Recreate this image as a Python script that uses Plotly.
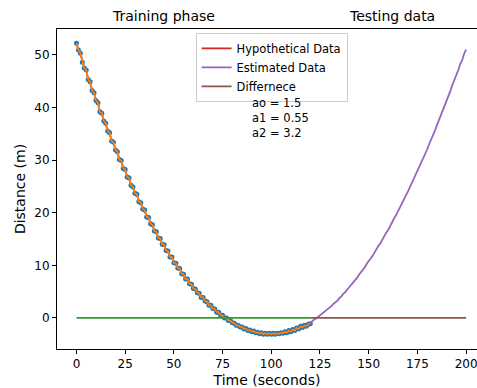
import plotly.graph_objects as go

# ---- Training phase (measured distance, one sample per second) ----
train_t = list(range(0, 121))
train_d = [
    52.2, 50.9, 50.3, 48.6, 47.5, 47.1, 45.3, 44.9, 43.2, 42.8,
    41.3, 40.9, 39.2, 38.9, 37.4, 37.0, 35.5, 35.2, 33.6, 33.4,
    31.9, 31.6, 30.1, 29.9, 28.4, 28.2, 26.8, 26.6, 25.2, 24.9,
    23.7, 23.5, 22.1, 21.9, 20.7, 20.5, 19.2, 19.1, 17.9, 17.7,
    16.5, 16.4, 15.2, 15.1, 14.0, 13.9, 12.8, 12.7, 11.6, 11.6,
    10.5, 10.4, 9.5, 9.4, 8.4, 8.3, 7.4, 7.4, 6.5, 6.4,
    5.6, 5.5, 4.8, 4.7, 3.9, 3.9, 3.2, 3.1, 2.4, 2.4,
    1.8, 1.7, 1.1, 1.1, 0.5, 0.5, 0.0, 0.0, -0.5, -0.5,
    -0.9, -1.0, -1.4, -1.4, -1.7, -1.7, -2.1, -2.0, -2.4, -2.3,
    -2.6, -2.5, -2.8, -2.7, -3.0, -2.8, -3.1, -2.9, -3.1, -2.9,
    -3.1, -2.9, -3.1, -2.9, -3.0, -2.8, -2.9, -2.6, -2.8, -2.4,
    -2.6, -2.2, -2.4, -1.9, -2.1, -1.6, -1.8, -1.4, -1.6, -1.2,
    -1.1,
]

# ---- Testing data (estimated distance) ----
test_t = list(range(120, 201))
test_d = [
    -1.0, -0.6, -0.3, -0.1, 0.2, 0.5, 0.7, 1.1, 1.3, 1.7,
    1.9, 2.3, 2.7, 3.0, 3.3, 3.8, 4.1, 4.6, 4.9, 5.4,
    5.8, 6.2, 6.7, 7.2, 7.6, 8.2, 8.6, 9.2, 9.6, 10.3,
    10.7, 11.3, 11.8, 12.5, 13.0, 13.7, 14.2, 14.9, 15.5, 16.2,
    16.7, 17.5, 18.1, 18.9, 19.5, 20.3, 20.9, 21.7, 22.4, 23.2,
    23.9, 24.7, 25.4, 26.3, 27.0, 27.9, 28.6, 29.6, 30.3, 31.3,
    32.0, 33.0, 33.8, 34.8, 35.6, 36.6, 37.5, 38.5, 39.4, 40.4,
    41.3, 42.3, 43.2, 44.3, 45.2, 46.3, 47.1, 48.3, 49.0, 50.2,
    51.0,
]

# ---- Difference lines ----
diff_train_t = [0, 120]
diff_train_d = [0, 0]
diff_test_t = [120, 200]
diff_test_d = [0, 0]

coef_labels = ["ao = 1.5", "a1 = 0.55", "a2 = 3.2"]

BLUE, ORANGE, GREEN = "#1f77b4", "#ff7f0e", "#2ca02c"
RED, PURPLE, BROWN = "#d62728", "#9467bd", "#8c564b"
FONT = "DejaVu Sans"

fig = go.Figure()
fig.add_trace(go.Scatter(x=train_t, y=train_d, mode="lines", name="Hypothetical Data",
                         line=dict(color=RED, width=1.8)))
fig.add_trace(go.Scatter(x=train_t, y=train_d, mode="markers", showlegend=False,
                         marker=dict(color=BLUE, size=5)))
fig.add_trace(go.Scatter(x=train_t, y=train_d, mode="lines", showlegend=False,
                         line=dict(color=ORANGE, width=1.8)))
fig.add_trace(go.Scatter(x=test_t, y=test_d, mode="lines", name="Estimated Data",
                         line=dict(color=PURPLE, width=1.8)))
fig.add_trace(go.Scatter(x=diff_train_t, y=diff_train_d, mode="lines", showlegend=False,
                         line=dict(color=GREEN, width=1.8)))
fig.add_trace(go.Scatter(x=diff_test_t, y=diff_test_d, mode="lines", name="Differnece",
                         line=dict(color=BROWN, width=1.8)))

annots = [
    dict(text="Training phase", x=0.254, y=1.041, xref="paper", yref="paper",
         showarrow=False, font=dict(size=14, color="black", family=FONT),
         xanchor="center", yanchor="middle"),
    dict(text="Testing data", x=0.798, y=1.041, xref="paper", yref="paper",
         showarrow=False, font=dict(size=14, color="black", family=FONT),
         xanchor="center", yanchor="middle"),
    dict(text="<br>".join(coef_labels), x=0.462, y=0.722, xref="paper", yref="paper",
         showarrow=False, align="left", font=dict(size=11.5, color="black", family=FONT),
         xanchor="left", yanchor="middle", borderpad=0),
]

fig.update_layout(
    width=477, height=388,
    margin=dict(l=57, r=0, t=29, b=39),
    paper_bgcolor="white", plot_bgcolor="white",
    font=dict(family=FONT, size=12, color="black"),
    annotations=annots,
    legend=dict(x=0.330, y=0.988, xanchor="left", yanchor="top",
                bgcolor="rgba(255,255,255,0.8)", bordercolor="#cccccc", borderwidth=1,
                font=dict(size=11.5, family=FONT)),
    xaxis=dict(range=[-10.0, 205.6], tickvals=[0, 25, 50, 75, 100, 125, 150, 175, 200],
               showgrid=False, zeroline=False, showline=True, linecolor="black",
               linewidth=1, mirror=True, ticks="outside", ticklen=4, tickcolor="black",
               ticklabeloverflow="allow",
               title=dict(text="Time (seconds)", standoff=4)),
    yaxis=dict(range=[-5.9, 54.9], tickvals=[0, 10, 20, 30, 40, 50],
               showgrid=False, zeroline=False, showline=True, linecolor="black",
               linewidth=1, mirror=False, ticks="outside", ticklen=4, tickcolor="black",
               title=dict(text="Distance (m)", standoff=5)),
)

fig.write_html("out.html")
